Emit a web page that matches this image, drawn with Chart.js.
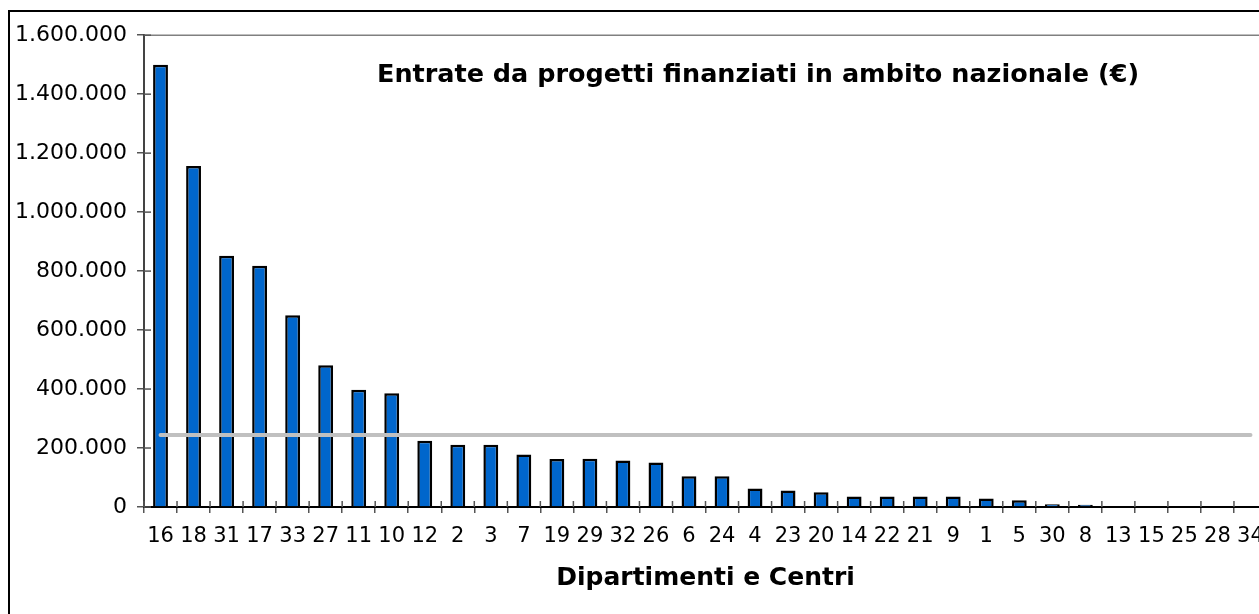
<!DOCTYPE html>
<html>
<head>
<meta charset="utf-8">
<script src="https://cdn.jsdelivr.net/npm/chart.js@4.4.1/dist/chart.umd.min.js"></script>
<style>
  html, body { margin: 0; padding: 0; background: #fff; overflow: hidden; width: 1259px; height: 614px; }
  #frame { position: absolute; left: 8px; top: 10px; width: 1290px; height: 620px; border: 2px solid #000; background: #fff; }
  #wrap { position: absolute; left: 0; top: 0; width: 1290px; height: 620px; }
</style>
</head>
<body>
<div id="frame"><div id="wrap"><canvas id="c" width="1290" height="620"></canvas></div></div>
<script>
// ---- data ----
const categories = ['16','18','31','17','33','27','11','10','12','2','3','7','19','29','32','26','6','24','4','23','20','14','22','21','9','1','5','30','8','13','15','25','28','34'];
const entrate = [1500000,1156000,852000,818000,650000,481000,398000,386000,225000,211000,211000,178000,163000,164000,158000,151000,104000,104000,63000,56000,50000,36000,36000,36000,36000,29000,23000,9000,8000,0,0,0,0,0];
const media = [244000,244000,244000,244000,244000,244000,244000,244000,244000,244000,244000,244000,244000,244000,244000,244000,244000,244000,244000,244000,244000,244000,244000,244000,244000,244000,244000,244000,244000,244000,244000,244000,244000,244000];
const yTicks = [0,200000,400000,600000,800000,1000000,1200000,1400000,1600000];
const chartTitle = 'Entrate da progetti finanziati in ambito nazionale (€)';
const xTitle = 'Dipartimenti e Centri';

const FONT = '"DejaVu Sans", Verdana, sans-serif';

function fmt(v) {
  return String(v).replace(/\B(?=(\d{3})+(?!\d))/g, '.');
}

// plugin: crossing tick marks, top border of plot area, overlay title
const decor = {
  id: 'decor',
  afterDatasetsDraw(chart) {
    const { ctx, chartArea: a, scales } = chart;
    ctx.save();
    // top gray border
    ctx.strokeStyle = '#808080';
    ctx.lineWidth = 1.5;
    ctx.beginPath();
    ctx.moveTo(a.left, a.top);
    ctx.lineTo(a.right, a.top);
    ctx.stroke();
    // inner halves of x ticks
    ctx.strokeStyle = '#555';
    ctx.lineWidth = 1.5;
    const xs = scales.x;
    for (let i = 0; i <= categories.length; i++) {
      const px = xs.getPixelForValue(i - 0.5);
      ctx.beginPath();
      ctx.moveTo(px, a.bottom);
      ctx.lineTo(px, a.bottom - 6);
      ctx.stroke();
    }
    // inner halves of y ticks
    const ys = scales.y;
    yTicks.forEach(v => {
      const py = ys.getPixelForValue(v);
      ctx.beginPath();
      ctx.moveTo(a.left, py);
      ctx.lineTo(a.left + 7, py);
      ctx.stroke();
    });
    // title inside plot
    ctx.fillStyle = '#000';
    ctx.font = 'bold 25.5px ' + FONT;
    ctx.textAlign = 'center';
    ctx.textBaseline = 'middle';
    ctx.fillText(chartTitle, 748, 63);
    ctx.restore();
  }
};

new Chart(document.getElementById('c'), {
  data: {
    labels: categories,
    datasets: [
      {
        type: 'line',
        data: media,
        borderColor: '#c0c0c0',
        borderWidth: 4,
        borderCapStyle: 'round',
        pointRadius: 0,
        tension: 0,
        order: 0
      },
      {
        type: 'bar',
        data: entrate,
        backgroundColor: '#0066cc',
        borderColor: '#000',
        borderWidth: 2.5,
        barPercentage: 0.45,
        categoryPercentage: 1,
        order: 1
      }
    ]
  },
  options: {
    responsive: false,
    animation: false,
    layout: { padding: { top: 21, right: 33, left: 0, bottom: 0 } },
    plugins: { legend: { display: false }, tooltip: { enabled: false }, title: { display: false } },
    scales: {
      x: {
        offset: true,
        grid: { offset: true, drawOnChartArea: false, drawTicks: true, tickLength: 6, color: '#555', lineWidth: 1.5 },
        border: { display: true, color: '#000', width: 2 },
        ticks: { color: '#000', font: { family: FONT, size: 21 }, padding: 11, maxRotation: 0, autoSkip: false },
        title: { display: true, text: xTitle, color: '#000', font: { family: FONT, size: 25, weight: 'bold' }, padding: { top: 10, bottom: 39 } },
        afterFit(s) { s.height = 125; }
      },
      y: {
        min: 0,
        max: 1600000,
        afterBuildTicks(s) { s.ticks = yTicks.map(v => ({ value: v })); },
        grid: { drawOnChartArea: false, drawTicks: true, tickLength: 7, color: '#555', lineWidth: 1.5 },
        border: { display: true, color: '#444', width: 2 },
        ticks: { color: '#000', font: { family: FONT, size: 22 }, padding: 10, callback: v => fmt(v) },
        afterFit(s) { s.width = 134; }
      }
    }
  },
  plugins: [decor]
});
</script>
</body>
</html>
